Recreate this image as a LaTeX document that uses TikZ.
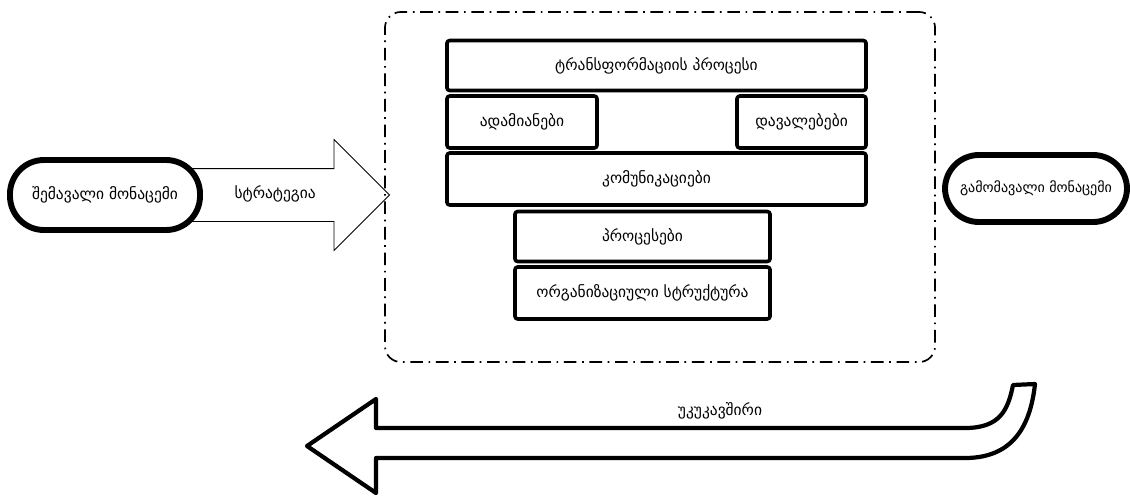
\documentclass[tikz,border=0pt]{standalone}
\usepackage{fontspec}
\setmainfont{DejaVu Sans}
\usetikzlibrary{shapes.arrows,backgrounds}

\begin{document}
\begin{tikzpicture}[x=0.025cm, y=-0.025cm,
    font=\fontsize{11}{13}\selectfont,
    layer box/.style={draw, line width=2.6pt, rounded corners=2pt, minimum height=1.25cm, inner sep=0pt, line join=round},
    data pill/.style={draw, line width=4.2pt, rounded corners=0.85cm, minimum height=1.75cm, inner sep=2pt, fill=white},
    system frame/.style={draw, line width=1.2pt, dash pattern=on 9pt off 4pt on 1.2pt off 4pt, rounded corners=0.4cm}]
    \useasboundingbox (0,0) rectangle (1130,496);

    % dash-dot frame round the transformation
    \node[system frame, minimum width=13.75cm, minimum height=8.75cm] (system) at (660,187) {};

    % layers inside the frame
    \node[layer box, minimum width=10.475cm] (transform) at (656.5,65.5) {ტრანსფორმაციის პროცესი};
    \node[layer box, minimum width=3.75cm, minimum height=1.3cm] (people) at (522,122) {ადამიანები};
    \node[layer box, minimum width=3.225cm, minimum height=1.3cm] (tasks) at (801.5,122) {დავალებები};
    \node[layer box, minimum width=10.475cm, minimum height=1.3cm] (comm) at (656.5,179) {კომუნიკაციები};
    \node[layer box, minimum width=6.375cm] (procs) at (642.5,236.5) {პროცესები};
    \node[layer box, minimum width=6.375cm, minimum height=1.3cm] (orgstruct) at (642.5,293) {ორგანიზაციული სტრუქტურა};

    % input and output
    \node[data pill, minimum width=4.75cm] (input) at (105,195) {შემავალი მონაცემი};
    \node[data pill, minimum width=4.55cm, minimum height=1.675cm, font=\fontsize{10}{12}\selectfont] (output) at (1036,188.5) {გამომავალი მონაცემი};

    % strategy arrow, tail hidden behind the input pill
    \begin{scope}[on background layer]
        \node[single arrow, draw, line width=0.6pt, single arrow head extend=0.725cm,
              minimum height=5.05cm, text height=0.25cm, text depth=0.1cm, inner ysep=0.475cm,
              anchor=tail, xshift=-0.4cm] (strategy) at (input.east) {სტრატეგია};
    \end{scope}

    % feedback arrow back along the bottom
    \coordinate (fb tip) at (307,446);
    \draw[line width=3pt, line join=round] (fb tip) -- (376,399) -- (376,428) -- (965,428)
        .. controls (1000,428) and (1008,410) .. (1013,385) -- (1035,384)
        .. controls (1030,430) and (1010,458) .. (965,458) -- (376,458) -- (376,493) -- cycle;
    \node (feedback) at (720,411) {უკუკავშირი};

\end{tikzpicture}
\end{document}
